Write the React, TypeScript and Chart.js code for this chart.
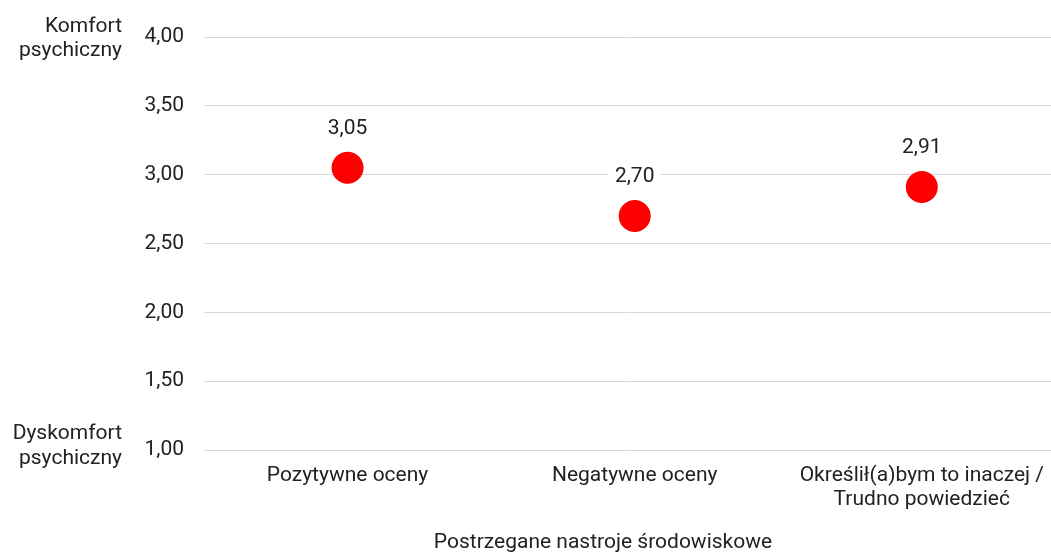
import React, { useEffect, useRef } from "react";
import { Chart, registerables } from "chart.js";

Chart.register(...registerables);

const categories: (string | string[])[] = [
  "Pozytywne oceny",
  "Negatywne oceny",
  ["Określił(a)bym to inaczej /", "Trudno powiedzieć"],
];
const values = [3.05, 2.7, 2.91];
const yTop = ["Komfort", "psychiczny"];
const yBottom = ["Dyskomfort", "psychiczny"];
const xTitle = "Postrzegane nastroje środowiskowe";

const FONT = "Roboto";
const TXT = "#222222";
const FS = 21;

const fmt = (v: number) => v.toFixed(2).replace(".", ",");

export default function App() {
  const ref = useRef<HTMLCanvasElement | null>(null);
  useEffect(() => {
    if (!ref.current) return;
    const extras = {
      id: "extras",
      afterDatasetsDraw(chart: any) {
        const ctx = chart.ctx as CanvasRenderingContext2D;
        const meta = chart.getDatasetMeta(0);
        ctx.save();
        ctx.font = `${FS}px ${FONT}`;
        ctx.textAlign = "center";
        ctx.textBaseline = "middle";
        meta.data.forEach((el: any, i: number) => {
          const t = fmt(values[i]);
          const w = ctx.measureText(t).width;
          const y = el.y - 39;
          ctx.fillStyle = "#ffffff";
          ctx.fillRect(el.x - w / 2 - 6, y - 12, w + 12, 24);
          ctx.fillStyle = TXT;
          ctx.fillText(t, el.x, y);
        });
        const ys = chart.scales.y;
        ctx.textAlign = "right";
        const yt = ys.getPixelForValue(4);
        const yb = ys.getPixelForValue(1);
        ctx.fillText(yTop[0], 122, yt - 10);
        ctx.fillText(yTop[1], 122, yt + 14);
        ctx.fillText(yBottom[0], 122, yb - 16);
        ctx.fillText(yBottom[1], 122, yb + 9);
        ctx.textAlign = "center";
        ctx.fillText(xTitle, 603, 543);
        ctx.restore();
      },
    };
    const chart = new Chart(ref.current, {
      type: "line",
      data: {
        datasets: [
          {
            data: values.map((v, i) => ({ x: i, y: v })),
            showLine: false,
            pointRadius: 16,
            pointHoverRadius: 16,
            pointBackgroundColor: "#ff0000",
            pointBorderWidth: 0,
            borderColor: "#ff0000",
          },
        ],
      },
      options: {
        animation: false,
        responsive: true,
        maintainAspectRatio: false,
        layout: { autoPadding: false, padding: { top: 37, right: 0, left: 0, bottom: 0 } },
        plugins: { legend: { display: false }, tooltip: { enabled: false } },
        scales: {
          x: {
            type: "linear",
            min: -0.5,
            max: 2.45,
            afterBuildTicks: (s: any) => {
              s.ticks = categories.map((_, i) => ({ value: i }));
            },
            afterFit: (s: any) => {
              s.height = 104;
              s.paddingRight = 0;
              s.paddingLeft = 0;
            },
            grid: { display: false, drawTicks: false },
            border: { display: false },
            ticks: {
              callback: (v: any) => categories[v as number],
              color: TXT,
              font: { family: FONT, size: FS, lineHeight: 1.15 },
              padding: 14,
              maxRotation: 0,
              autoSkip: false,
            },
          },
          y: {
            min: 1,
            max: 4,
            afterFit: (s: any) => {
              s.width = 204;
              s.paddingTop = 0;
              s.paddingBottom = 0;
            },
            ticks: {
              stepSize: 0.5,
              callback: (v: any) => fmt(Number(v)),
              color: TXT,
              font: { family: FONT, size: FS },
              padding: 20,
            },
            grid: { color: "#d9d9d9", lineWidth: 1, drawTicks: false },
            border: { display: false },
          },
        },
      },
      plugins: [extras],
    });
    return () => chart.destroy();
  }, []);
  return (
    <div style={{ position: "fixed", left: 0, top: 0, width: 1051, height: 554 }}>
      <canvas ref={ref} />
    </div>
  );
}
